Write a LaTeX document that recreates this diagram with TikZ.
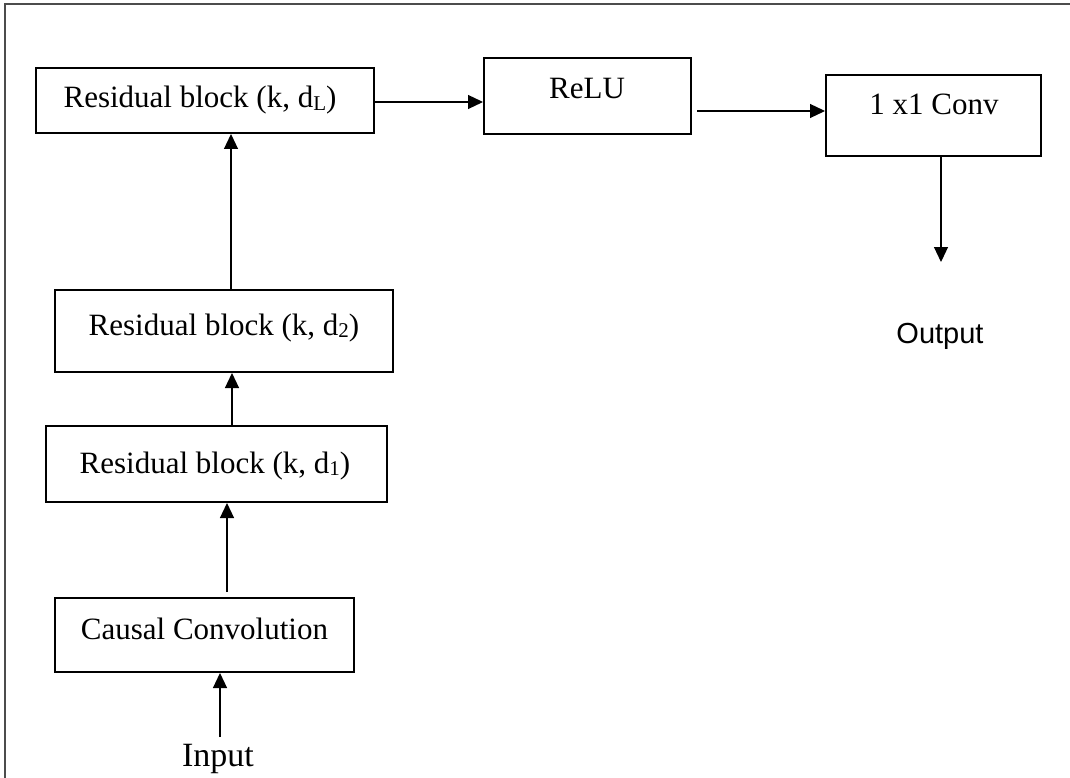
\documentclass[tikz,border=0pt]{standalone}
\usepackage{fontspec}
\setmainfont{Liberation Serif}
\newfontfamily\outfont{Liberation Sans}
\usetikzlibrary{arrows.meta,calc}
\newcommand{\lowsub}[1]{\raisebox{-2.5pt}{\fontsize{21}{21}\selectfont #1}}
\tikzset{
  blk/.style={draw=black, line width=2pt, inner sep=0pt, rectangle},
  lbl/.style={font=\fontsize{31}{36}\selectfont, anchor=base, inner sep=0pt},
  arr/.style={draw=black, line width=1.2pt, -{Triangle[length=15pt,width=14pt]}},
  frame/.style={draw=black!70, line width=1.2pt}
}
\begin{document}
\begin{tikzpicture}[x=1pt,y=-1pt]
\useasboundingbox (0,0) rectangle (1070,778);
% frame (top and left edges)
\draw[frame] (5,800) -- (5,4) -- (1075,4);
% boxes
\node[blk, minimum width=338pt, minimum height=65pt] (resL) at (205,100.5) {};
\node[blk, minimum width=207pt, minimum height=76pt] (relu) at (587.5,96) {};
\node[blk, minimum width=215pt, minimum height=81pt] (conv) at (933.5,115.5) {};
\node[blk, minimum width=338pt, minimum height=82pt] (res2) at (224,331) {};
\node[blk, minimum width=341pt, minimum height=76pt] (res1) at (216.5,464) {};
\node[blk, minimum width=299pt, minimum height=74pt] (causal) at (204.5,635) {};
% texts
\node[lbl] (tresL) at (200,108) {Residual block (k, d\lowsub{L})};
\node[lbl] (trelu) at (587,99) {ReLU};
\node[lbl] (tconv) at (934,115) {1 x1 Conv};
\node[lbl] (tres2) at (224,335) {Residual block (k, d\lowsub{2})};
\node[lbl] (tres1) at (215,473) {Residual block (k, d\lowsub{1})};
\node[lbl] (tcausal) at (204.5,639) {Causal Convolution};
\node[lbl, font=\fontsize{34}{40}\selectfont] (input) at (218,766) {Input};
\node[lbl, font=\outfont\fontsize{29}{34}\selectfont] (output) at (940,343) {Output};
% connectors
\draw[arr] ([yshift=-1.5pt]resL.east) -- ([yshift=-1.5pt]resL.east -| relu.west);
\draw[arr] ([xshift=5pt,yshift=-15pt]relu.east) -- ([yshift=-15pt]relu.east -| conv.west);
\coordinate (outtip) at (941,262);
\draw[arr] (outtip |- conv.south) -- (outtip);
\draw[arr] ([xshift=7pt]res2.north) -- ([xshift=7pt]res2.north |- resL.south);
\draw[arr] ([xshift=15.5pt]res1.north) -- ([xshift=15.5pt]res1.north |- res2.south);
\draw[arr] ([xshift=22.5pt,yshift=5pt]causal.north) -- ([xshift=22.5pt]causal.north |- res1.south);
\coordinate (intail) at (220,737);
\draw[arr] (intail) -- (intail |- causal.south);
\end{tikzpicture}
\end{document}
